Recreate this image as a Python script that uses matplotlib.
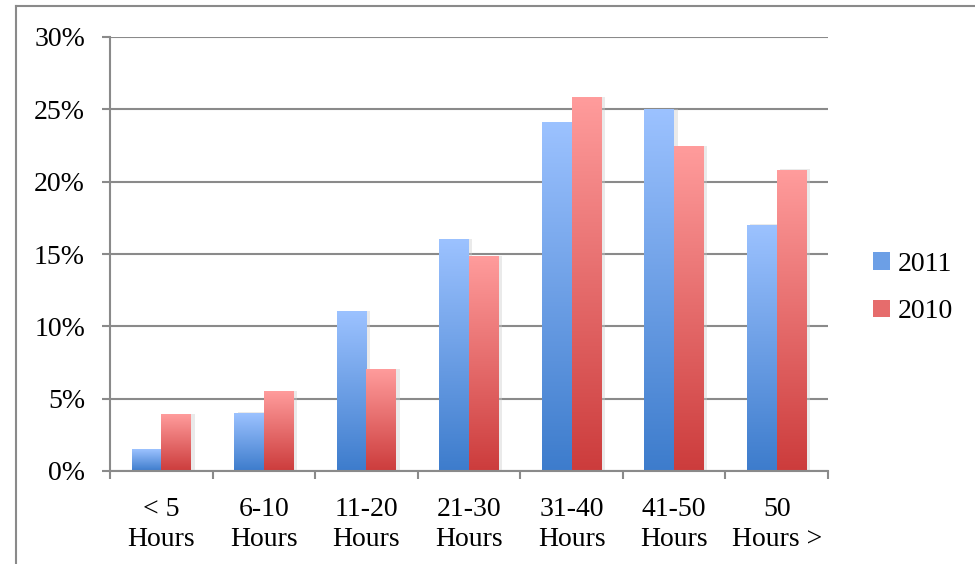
import numpy as np
import matplotlib.pyplot as plt
import matplotlib.patheffects as pe
from matplotlib.colors import LinearSegmentedColormap
from matplotlib.lines import Line2D
from matplotlib.patches import Patch

categories = ["< 5\nHours", "6-10\nHours", "11-20\nHours", "21-30\nHours",
              "31-40\nHours", "41-50\nHours", "50\nHours >"]
y2011 = [1.5, 4.0, 11.0, 16.0, 24.1, 25.0, 17.0]
y2010 = [3.9, 5.5, 7.0, 14.8, 25.8, 22.4, 20.8]

plt.rcParams['font.family'] = ['Liberation Serif', 'DejaVu Serif']

blue_cm = LinearSegmentedColormap.from_list("b", ["#3d7ccc", "#9cc2ff"])
red_cm = LinearSegmentedColormap.from_list("r", ["#cc3c3c", "#ff9c9c"])
gray = "#8a8a8a"

fig = plt.figure(figsize=(9.75, 5.64), dpi=100)
ax = fig.add_axes([110/975, 93/564, 718/975, 434/564])

x = np.arange(len(categories))
w = 0.29
shadow = [pe.SimplePatchShadow(offset=(2.5, 0.5), shadow_rgbFace="#cccccc", alpha=0.4)]
b1 = ax.bar(x - w/2, y2011, w, color="none", edgecolor="none", path_effects=shadow, zorder=1.5)
b2 = ax.bar(x + w/2, y2010, w, color="none", edgecolor="none", path_effects=shadow, zorder=1.5)

grad = np.linspace(0, 1, 256).reshape(-1, 1)
for bars, cm in ((b1, blue_cm), (b2, red_cm)):
    for p in bars:
        x0, y0 = p.get_x(), p.get_y()
        ax.imshow(grad, cmap=cm, origin="lower", aspect="auto",
                  extent=[x0, x0 + p.get_width(), y0, y0 + p.get_height()],
                  zorder=2)

ax.set_xlim(-0.5, len(categories) - 0.5)
ax.set_ylim(0, 30)
ax.set_yticks(np.arange(0, 31, 5))
ax.set_yticklabels([f"{v}%" for v in range(0, 31, 5)], fontsize=20)
ax.yaxis.grid(True, color=gray, lw=1.5)
ax.set_axisbelow(True)

ax.set_xticks(np.arange(-0.5, len(categories)), minor=False)
ax.set_xticklabels([])
ax.set_xticks(x, minor=True)
ax.set_xticklabels(categories, minor=True, fontsize=20, linespacing=1.23)
ax.tick_params(axis="x", which="minor", length=0, pad=19)
ax.tick_params(axis="x", which="major", length=6, width=1.5, color=gray)
ax.tick_params(axis="y", length=6, width=1.5, color=gray, pad=12)

for s in ["top", "right"]:
    ax.spines[s].set_visible(False)
for s in ["left", "bottom"]:
    ax.spines[s].set_color(gray)
    ax.spines[s].set_linewidth(1.5)

handles = [Patch(facecolor="#6c9fe6", label="2011"),
           Patch(facecolor="#e66c6c", label="2010")]
fig.legend(handles=handles, loc="center left", bbox_to_anchor=(848/975, 1 - 288/564),
           frameon=False, fontsize=20, handlelength=0.6, handleheight=0.6,
           handletextpad=0.3, labelspacing=0.8)

# outer chart border
fig.add_artist(Line2D([16/975, 16/975], [0, 1 - 6/564], transform=fig.transFigure,
                      color=gray, lw=1.5))
fig.add_artist(Line2D([16/975, 1], [1 - 6/564, 1 - 6/564], transform=fig.transFigure,
                      color=gray, lw=1.5))

fig.savefig("out.png", dpi=100)
